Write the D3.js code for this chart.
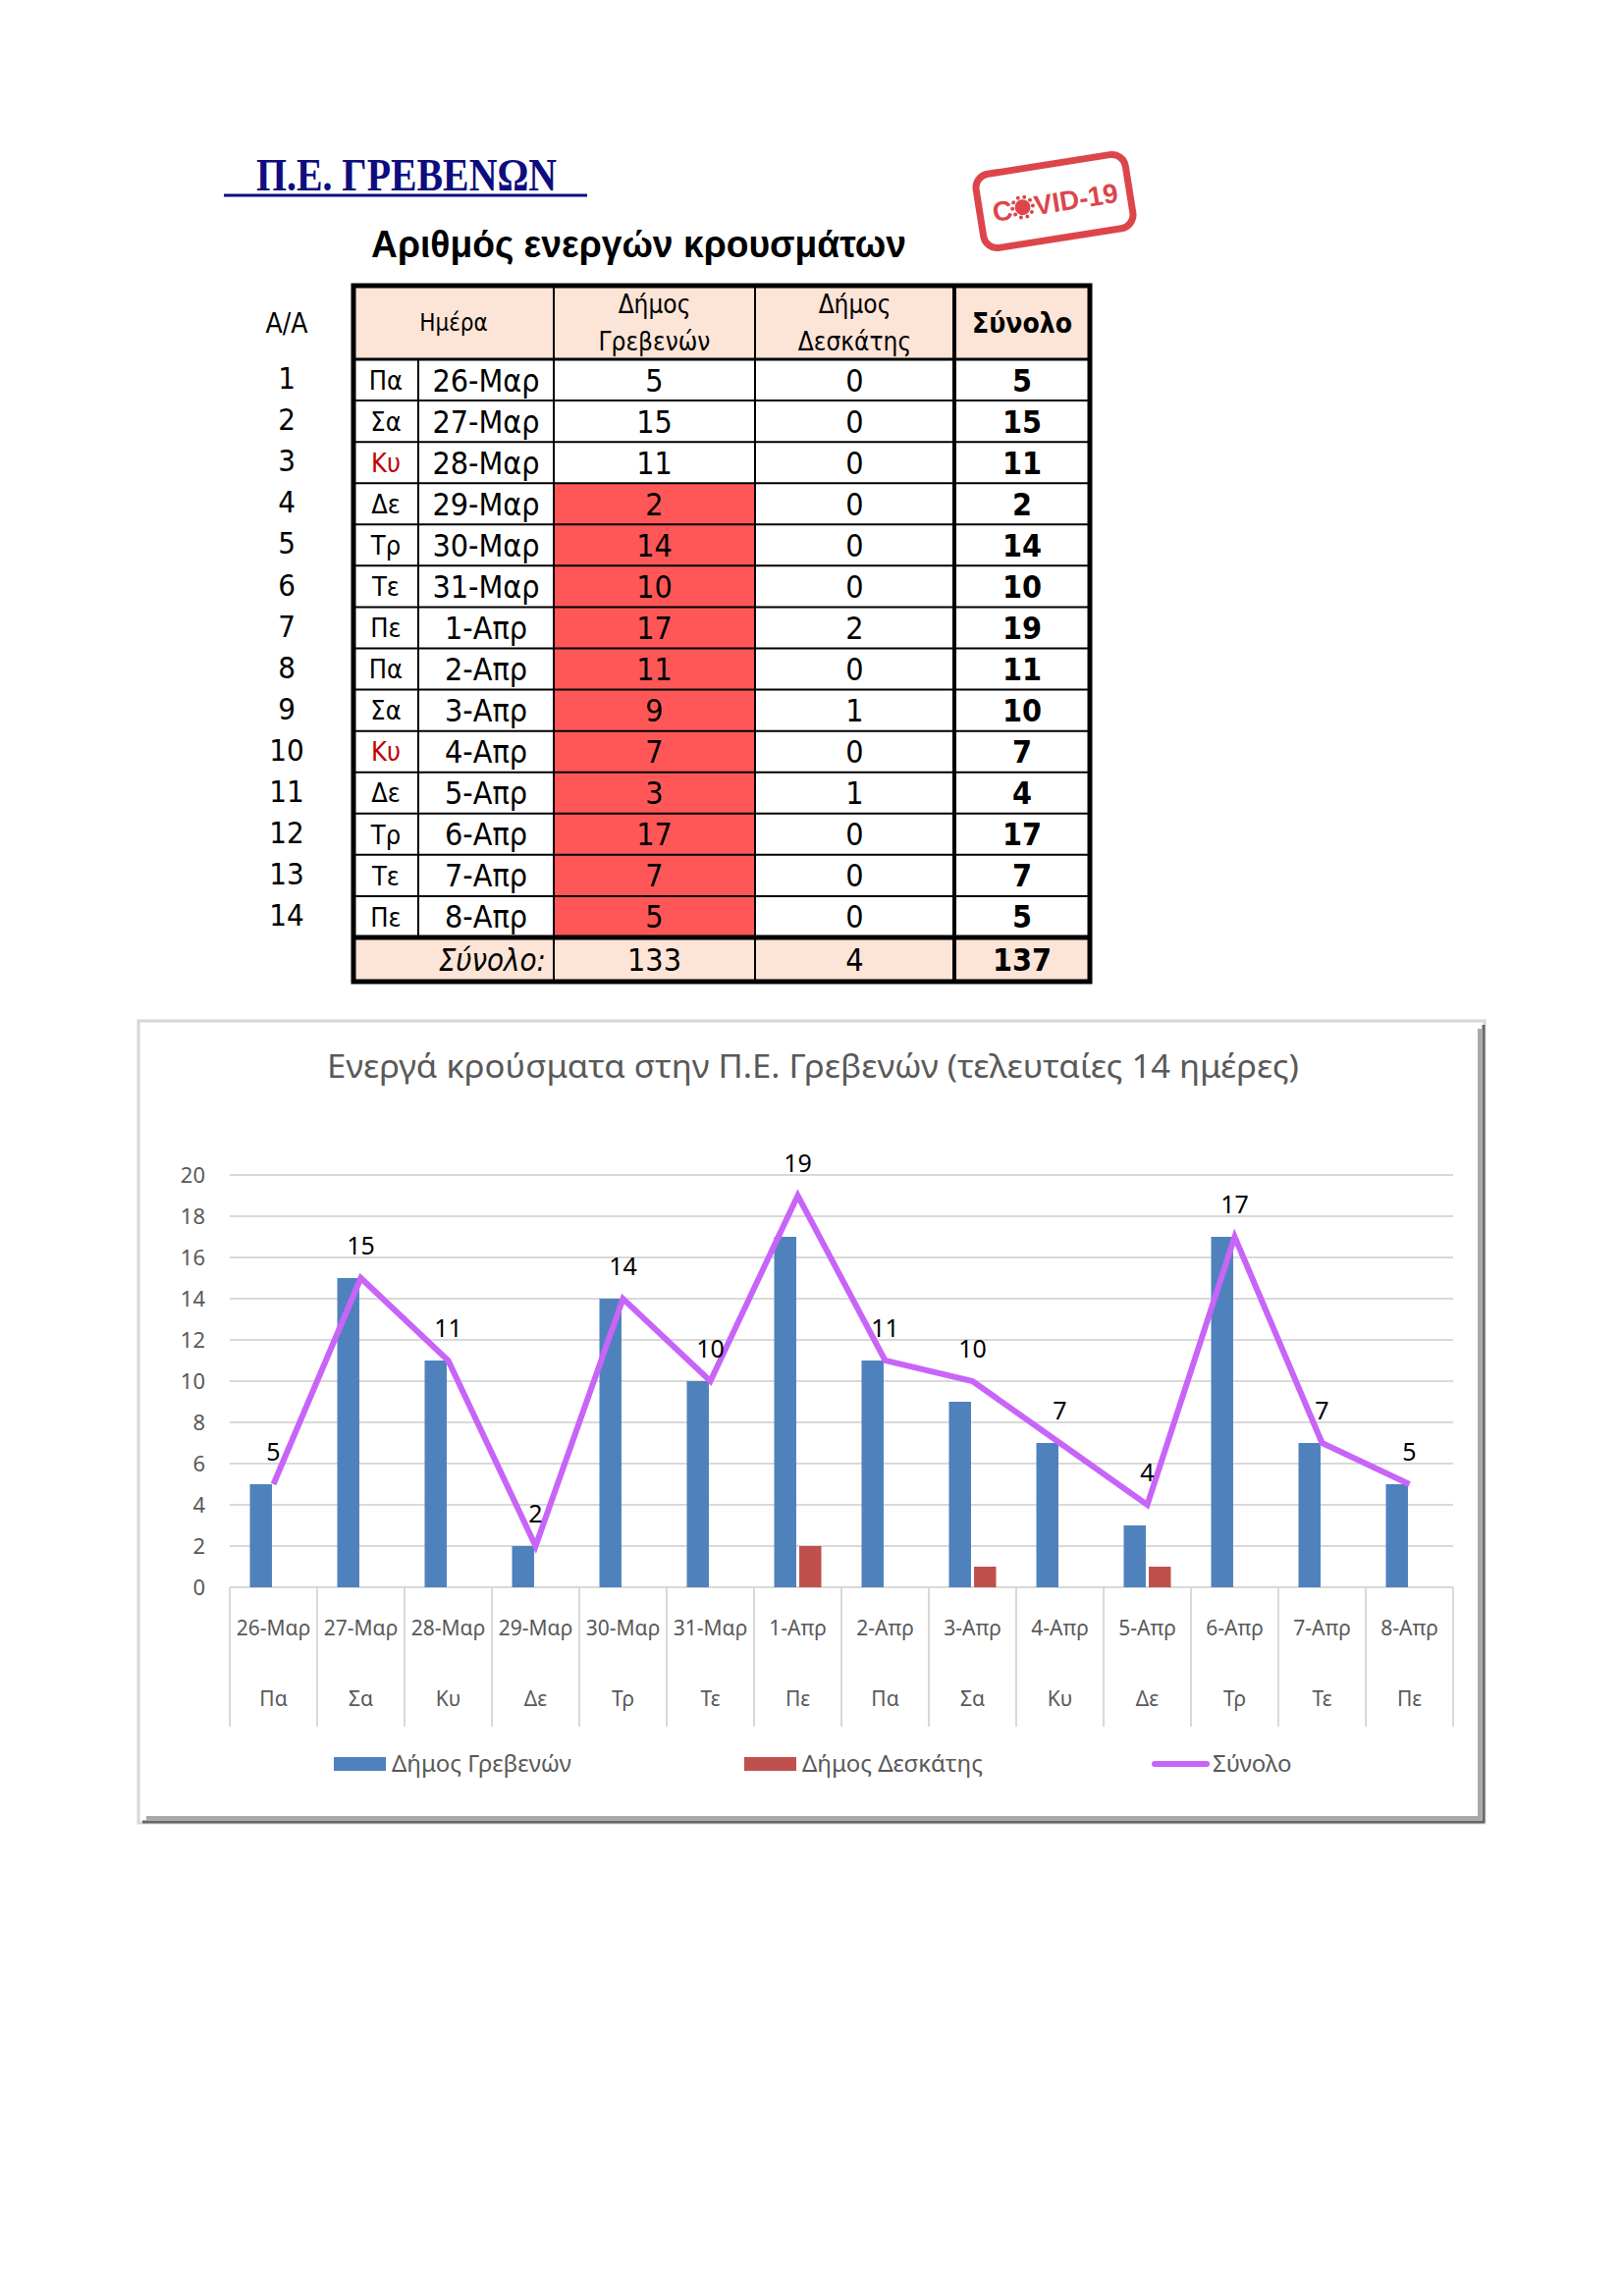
<!DOCTYPE html>
<html>
<head>
<meta charset="utf-8">
<script src="https://cdn.jsdelivr.net/npm/d3@7/dist/d3.min.js"></script>
<style>
  body { margin: 0; background: #fff; }
  svg { display: block; }
</style>
</head>
<body>
<div id="page"></div>
<script>
// data
const days    = ['Πα','Σα','Κυ','Δε','Τρ','Τε','Πε','Πα','Σα','Κυ','Δε','Τρ','Τε','Πε'];
const dates   = ['26-Μαρ','27-Μαρ','28-Μαρ','29-Μαρ','30-Μαρ','31-Μαρ','1-Απρ','2-Απρ','3-Απρ','4-Απρ','5-Απρ','6-Απρ','7-Απρ','8-Απρ'];
const grevena = [5,15,11,2,14,10,17,11,9,7,3,17,7,5];
const deskati = [0,0,0,0,0,0,2,0,1,0,1,0,0,0];
const total   = [5,15,11,2,14,10,19,11,10,7,4,17,7,5];
const redRows = [3,4,5,6,7,8,9,10,11,12,13];   // highlighted cells in Grevena column
const sums    = ['133','4','137'];
const yTicks  = [0,2,4,6,8,10,12,14,16,18,20];
const series  = ['Δήμος Γρεβενών','Δήμος Δεσκάτης','Σύνολο'];

const W = 1653, H = 2339;
const TFONT = '"DejaVu Sans Condensed", "DejaVu Sans", sans-serif';
const CFONT = '"Noto Sans", "Open Sans", sans-serif';

const svg = d3.select('#page').append('svg').attr('width', W).attr('height', H);
svg.append('rect').attr('width', W).attr('height', H).attr('fill', '#fff');

/* ---------- headings ---------- */
svg.append('text')
  .attr('x', 261).attr('y', 194)
  .attr('textLength', 306).attr('lengthAdjust', 'spacingAndGlyphs')
  .style('font', 'bold 46px "Liberation Serif", serif')
  .attr('fill', '#0d0d80')
  .text('Π.Ε. ΓΡΕΒΕΝΩΝ');
svg.append('line')
  .attr('x1', 228).attr('x2', 598).attr('y1', 199).attr('y2', 199)
  .attr('stroke', '#0d0d80').attr('stroke-width', 3);

svg.append('text')
  .attr('x', 378).attr('y', 262)
  .attr('textLength', 545).attr('lengthAdjust', 'spacingAndGlyphs')
  .style('font', 'bold 38px "Liberation Sans", Arial, sans-serif')
  .attr('fill', '#000')
  .text('Αριθμός ενεργών κρουσμάτων');

// covid stamp
const red = '#d7262c';
const stamp = svg.append('g').attr('transform', 'translate(1074,205) rotate(-9)').attr('opacity', 0.85);
stamp.append('rect')
  .attr('x', -77).attr('y', -38).attr('width', 154).attr('height', 76).attr('rx', 14)
  .attr('fill', 'none').attr('stroke', red).attr('stroke-width', 7);
stamp.append('text').attr('x', -64).attr('y', 11)
  .style('font', 'bold 28px "Liberation Sans", sans-serif').attr('fill', red)
  .text('C');
const vir = stamp.append('g').attr('transform', 'translate(-33,1)').attr('fill', red);
vir.append('circle').attr('r', 8);
d3.range(10).forEach(k => {
  const a = k * Math.PI / 5;
  vir.append('circle').attr('cx', 10.5 * Math.cos(a)).attr('cy', 10.5 * Math.sin(a)).attr('r', 2);
});
stamp.append('text').attr('x', -21).attr('y', 11)
  .style('font', 'bold 28px "Liberation Sans", sans-serif').attr('fill', red)
  .attr('textLength', 86).attr('lengthAdjust', 'spacingAndGlyphs')
  .text('VID-19');

/* ---------- table ---------- */
const colX = [360, 426, 564, 769, 972, 1110];
const headTop = 291, headBot = 366, sumTop = 955, sumBot = 1000;
const row = d3.scaleBand().domain(d3.range(dates.length)).range([headBot, sumTop]);
const tbl = svg.append('g');

// fills
tbl.append('rect').attr('x', colX[0]).attr('y', headTop).attr('width', colX[5] - colX[0]).attr('height', headBot - headTop).attr('fill', '#fce4d6');
tbl.append('rect').attr('x', colX[0]).attr('y', sumTop).attr('width', colX[5] - colX[0]).attr('height', sumBot - sumTop).attr('fill', '#fce4d6');
tbl.selectAll('rect.red').data(redRows).join('rect').attr('class', 'red')
  .attr('x', colX[2]).attr('y', d => row(d)).attr('width', colX[3] - colX[2]).attr('height', row.bandwidth())
  .attr('fill', '#ff5757');

// grid lines
tbl.selectAll('line.h').data(d3.range(1, dates.length)).join('line').attr('class', 'h')
  .attr('x1', colX[0]).attr('x2', colX[5]).attr('y1', d => row(d)).attr('y2', d => row(d))
  .attr('stroke', '#000').attr('stroke-width', 2);
tbl.append('line').attr('x1', colX[0]).attr('x2', colX[5]).attr('y1', headBot).attr('y2', headBot).attr('stroke', '#000').attr('stroke-width', 3);
tbl.append('line').attr('x1', colX[0]).attr('x2', colX[5]).attr('y1', sumTop).attr('y2', sumTop).attr('stroke', '#000').attr('stroke-width', 5);
tbl.append('line').attr('x1', colX[1]).attr('x2', colX[1]).attr('y1', headBot).attr('y2', sumTop).attr('stroke', '#000').attr('stroke-width', 2);
[colX[2], colX[3], colX[4]].forEach((x, i) => {
  tbl.append('line').attr('x1', x).attr('x2', x).attr('y1', headTop).attr('y2', sumBot)
    .attr('stroke', '#000').attr('stroke-width', i === 2 ? 4 : 2);
});
tbl.append('rect').attr('x', colX[0]).attr('y', headTop).attr('width', colX[5] - colX[0]).attr('height', sumBot - headTop)
  .attr('fill', 'none').attr('stroke', '#000').attr('stroke-width', 5);

// header text
const txt = (x, y, s, size, opts = {}) => tbl.append('text')
  .attr('x', x).attr('y', y).attr('text-anchor', opts.anchor || 'middle').attr('dy', '0.36em')
  .style('font-family', TFONT).style('font-size', size + 'px')
  .style('font-weight', opts.bold ? 'bold' : 'normal').style('font-style', opts.italic ? 'italic' : 'normal')
  .attr('fill', opts.fill || '#000').text(s);

txt(292, 329, 'Α/Α', 28);
txt((colX[0] + colX[2]) / 2, 328, 'Ημέρα', 24);
txt((colX[2] + colX[3]) / 2, 310, 'Δήμος', 26);
txt((colX[2] + colX[3]) / 2, 348, 'Γρεβενών', 26);
txt((colX[3] + colX[4]) / 2, 310, 'Δήμος', 26);
txt((colX[3] + colX[4]) / 2, 348, 'Δεσκάτης', 26);
txt((colX[4] + colX[5]) / 2, 329, 'Σύνολο', 28, { bold: true });

// body rows
dates.forEach((d, i) => {
  const cy = row(i) + row.bandwidth() / 2;
  txt(292, cy - 2, String(i + 1), 31);
  txt((colX[0] + colX[1]) / 2, cy, days[i], 27, { fill: days[i] === 'Κυ' ? '#c00000' : '#000' });
  txt((colX[1] + colX[2]) / 2, cy, d, 32);
  txt((colX[2] + colX[3]) / 2, cy, grevena[i], 32);
  txt((colX[3] + colX[4]) / 2, cy, deskati[i], 32);
  txt((colX[4] + colX[5]) / 2, cy, total[i], 32, { bold: true });
});
const sy = (sumTop + sumBot) / 2;
txt(colX[2] - 8, sy, 'Σύνολο:', 31, { anchor: 'end', italic: true });
txt((colX[2] + colX[3]) / 2, sy, sums[0], 32);
txt((colX[3] + colX[4]) / 2, sy, sums[1], 32);
txt((colX[4] + colX[5]) / 2, sy, sums[2], 32, { bold: true });

/* ---------- chart ---------- */
const box = { x: 141, y: 1040, w: 1371, h: 817 };
const ch = svg.append('g');
ch.append('rect').attr('x', box.x).attr('y', box.y).attr('width', box.w).attr('height', box.h)
  .attr('fill', '#fff').attr('stroke', '#d6d6d6').attr('stroke-width', 3);
// bevel shadow right / bottom
ch.append('line').attr('x1', box.x + box.w - 5).attr('x2', box.x + box.w - 5).attr('y1', box.y + 8).attr('y2', box.y + box.h - 3)
  .attr('stroke', '#a9a9a9').attr('stroke-width', 4);
ch.append('line').attr('x1', box.x + box.w - 1).attr('x2', box.x + box.w - 1).attr('y1', box.y + 4).attr('y2', box.y + box.h)
  .attr('stroke', '#666').attr('stroke-width', 3);
ch.append('line').attr('x1', box.x + 8).attr('x2', box.x + box.w - 3).attr('y1', box.y + box.h - 5).attr('y2', box.y + box.h - 5)
  .attr('stroke', '#a9a9a9').attr('stroke-width', 4);
ch.append('line').attr('x1', box.x + 4).attr('x2', box.x + box.w).attr('y1', box.y + box.h - 1).attr('y2', box.y + box.h - 1)
  .attr('stroke', '#666').attr('stroke-width', 3);

ch.append('text').attr('x', 828).attr('y', 1098).attr('text-anchor', 'middle')
  .style('font-family', CFONT).style('font-size', '32px').attr('fill', '#595959')
  .attr('textLength', 990).attr('lengthAdjust', 'spacingAndGlyphs')
  .text('Ενεργά κρούσματα στην Π.Ε. Γρεβενών (τελευταίες 14 ημέρες)');

const plotL = 234, plotR = 1480;
const x0 = d3.scaleBand().domain(dates).range([plotL, plotR]);
const x1 = d3.scaleBand().domain(series.slice(0, 2)).range([x0.bandwidth() / 2 - 24, x0.bandwidth() / 2 + 24]).paddingInner(0.12);
const y = d3.scaleLinear().domain([0, 20]).range([1617, 1197]);

// gridlines
ch.selectAll('line.grid').data(yTicks).join('line').attr('class', 'grid')
  .attr('x1', plotL).attr('x2', plotR).attr('y1', d => y(d)).attr('y2', d => y(d))
  .attr('stroke', '#d9d9d9').attr('stroke-width', 2);

// y axis labels
const yAxis = ch.append('g').attr('transform', 'translate(219,0)')
  .call(d3.axisLeft(y).tickValues(yTicks).tickSize(0).tickPadding(10));
yAxis.select('.domain').remove();
yAxis.selectAll('text').style('font-family', CFONT).style('font-size', '22px').attr('fill', '#595959');

// category separators (two-level axis)
const seps = x0.domain().map(d => x0(d)).concat([plotR]);
ch.selectAll('line.sep').data(seps).join('line').attr('class', 'sep')
  .attr('x1', d => d).attr('x2', d => d).attr('y1', y(0)).attr('y2', 1759)
  .attr('stroke', '#d9d9d9').attr('stroke-width', 2);
ch.selectAll('text.date').data(dates).join('text').attr('class', 'date')
  .attr('x', d => x0(d) + x0.bandwidth() / 2).attr('y', 1666).attr('text-anchor', 'middle')
  .style('font-family', CFONT).style('font-size', '21px').attr('fill', '#595959')
  .text(d => d);
ch.selectAll('text.day').data(days).join('text').attr('class', 'day')
  .attr('x', (d, i) => x0(dates[i]) + x0.bandwidth() / 2).attr('y', 1738).attr('text-anchor', 'middle')
  .style('font-family', CFONT).style('font-size', '21px').attr('fill', '#595959')
  .text(d => d);

// bars
const barRows = dates.map((d, i) => ({ date: d, vals: [grevena[i], deskati[i]] }));
const colors = ['#4f81bd', '#c0504d'];
ch.selectAll('g.cat').data(barRows).join('g').attr('class', 'cat')
  .attr('transform', d => `translate(${x0(d.date)},0)`)
  .selectAll('rect').data(d => d.vals.map((v, k) => ({ s: series[k], v, k })).filter(e => e.v > 0))
  .join('rect')
  .attr('x', e => x1(e.s)).attr('width', x1.bandwidth())
  .attr('y', e => y(e.v)).attr('height', e => y(0) - y(e.v))
  .attr('fill', e => colors[e.k]);

// total line
const lineC = '#c864f8';
const line = d3.line().x((d, i) => x0(dates[i]) + x0.bandwidth() / 2).y(d => y(d));
ch.append('path').datum(total).attr('d', line)
  .attr('fill', 'none').attr('stroke', lineC).attr('stroke-width', 6).attr('stroke-linejoin', 'miter');

ch.selectAll('text.lbl').data(total).join('text').attr('class', 'lbl')
  .attr('x', (d, i) => x0(dates[i]) + x0.bandwidth() / 2).attr('y', d => y(d) - 24).attr('text-anchor', 'middle')
  .style('font-family', CFONT).style('font-size', '25px').attr('fill', '#000')
  .text(d => d);

// legend
const legend = [
  { name: series[0], x: 340, type: 'bar', c: colors[0] },
  { name: series[1], x: 758, type: 'bar', c: colors[1] },
  { name: series[2], x: 1176, type: 'line', c: lineC }
];
const lg = ch.selectAll('g.leg').data(legend).join('g').attr('class', 'leg')
  .attr('transform', d => `translate(${d.x},1797)`);
lg.filter(d => d.type === 'bar').append('rect').attr('x', 0).attr('y', -7).attr('width', 53).attr('height', 14).attr('fill', d => d.c);
lg.filter(d => d.type === 'line').append('line').attr('x1', 0).attr('x2', 53).attr('y1', 0).attr('y2', 0)
  .attr('stroke', d => d.c).attr('stroke-width', 6).attr('stroke-linecap', 'round');
lg.append('text').attr('x', 59).attr('y', 0).attr('dy', '0.35em')
  .style('font-family', CFONT).style('font-size', '24px').attr('fill', '#595959')
  .text(d => d.name);
</script>
</body>
</html>
